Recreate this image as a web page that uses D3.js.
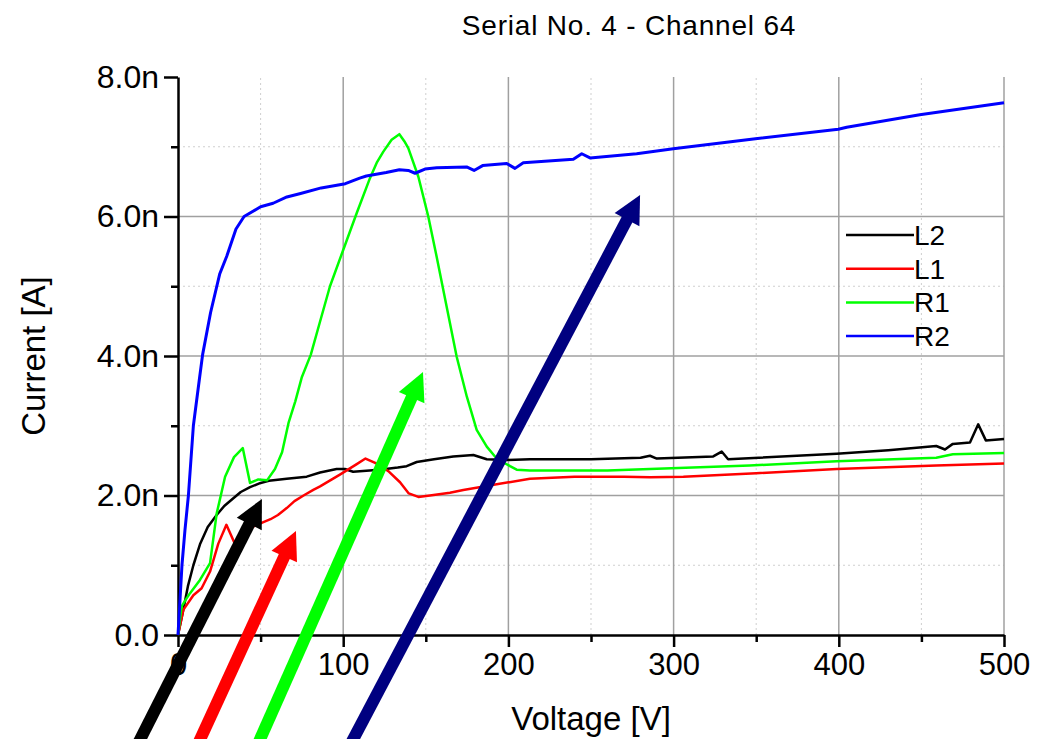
<!DOCTYPE html>
<html>
<head>
<meta charset="utf-8">
<script src="https://cdn.jsdelivr.net/npm/d3@7"></script>
<style>
body { margin: 0; background: #fff; }
text { font-family: "Liberation Sans", Arial, sans-serif; }
</style>
</head>
<body>
<div id="chart"></div>
<script>
// IV curves, voltage [V] / current [nA]
var seriesNames = ["L2", "L1", "R1", "R2"];
var seriesColors = ["#000000", "#ff0000", "#00ff00", "#0000ff"];

var L2 = [[0,0],[3.2,0.36],[6,0.7],[9.3,1.0],[13.3,1.3],[18,1.55],[23.4,1.72],[28,1.85],[33.5,1.96],[38,2.05],[43.6,2.12],[50,2.18],[55,2.21],[65.8,2.24],[77.9,2.27],[86,2.33],[96,2.38],[101,2.38],[106,2.34],[112,2.35],[122,2.37],[133,2.40],[138.4,2.42],[144.5,2.48],[155,2.52],[166.6,2.56],[178.8,2.58],[186.9,2.52],[199,2.51],[213,2.52],[250,2.52],[280,2.54],[285.7,2.57],[289.8,2.53],[324,2.56],[329.1,2.63],[333,2.52],[398.7,2.60],[430,2.65],[459,2.71],[464.3,2.66],[469,2.74],[479.4,2.76],[484.4,3.02],[489,2.79],[500,2.81]];

var L1 = [[0,0],[3.2,0.36],[9.3,0.57],[14.3,0.67],[19.4,0.91],[24.4,1.31],[29.3,1.58],[34.2,1.32],[38.5,1.46],[45,1.55],[51,1.61],[56,1.66],[60.5,1.72],[65.8,1.82],[70.5,1.92],[76,2.0],[81.9,2.08],[86,2.13],[98,2.30],[108.2,2.45],[113.5,2.53],[119,2.47],[123,2.42],[127.8,2.34],[134.4,2.19],[139.7,2.03],[145.5,1.98],[152.5,2.00],[164.6,2.04],[172.7,2.08],[192.9,2.16],[213,2.24],[240,2.27],[270,2.27],[285.7,2.26],[305.9,2.27],[350,2.32],[398.7,2.38],[459,2.43],[500,2.46]];

var R1 = [[0,0],[2.2,0.41],[4.5,0.5],[7.3,0.60],[13.3,0.79],[19.4,1.03],[23.4,1.74],[28.5,2.27],[33.9,2.55],[39.2,2.68],[43.6,2.18],[48.6,2.23],[54,2.22],[58.7,2.38],[63,2.62],[67,3.05],[71,3.35],[75,3.7],[80.4,4.02],[85.7,4.47],[92,5.0],[100,5.52],[108.2,6.05],[116.2,6.55],[120.5,6.78],[124.3,6.93],[129.3,7.10],[134,7.18],[137,7.08],[139.4,6.98],[145.5,6.57],[151.5,6.0],[156.6,5.42],[162.6,4.71],[168.7,3.99],[174.8,3.42],[180.8,2.94],[186.9,2.70],[192.9,2.53],[201,2.42],[205,2.37],[213,2.36],[260,2.36],[285.7,2.38],[346,2.43],[398.7,2.49],[459,2.54],[469,2.59],[500,2.61]];

var R2 = [[0,0],[2.4,1.0],[4.2,1.5],[6.3,2.0],[9.3,3.0],[12.9,3.66],[14.9,4.02],[19.7,4.62],[25.3,5.18],[29.5,5.43],[35.1,5.82],[40,6.0],[50,6.14],[57.6,6.19],[65.9,6.28],[74.2,6.33],[86.7,6.41],[101.3,6.47],[110,6.55],[114,6.58],[126,6.63],[134,6.67],[139.4,6.66],[143.5,6.62],[149.5,6.68],[156.6,6.70],[174.7,6.71],[179.2,6.66],[184.4,6.73],[199,6.76],[204,6.69],[209,6.77],[239.3,6.82],[244.4,6.90],[249.4,6.84],[277.6,6.90],[299.8,6.97],[348.3,7.11],[399.7,7.25],[404.8,7.28],[449,7.46],[500,7.63]];

var xMajor = [0, 100, 200, 300, 400, 500];
var xMinor = [50, 150, 250, 350, 450];
var yMajor = [0, 2, 4, 6, 8];
var yMinor = [1, 3, 5, 7];
var yTickLabels = ["0.0", "2.0n", "4.0n", "6.0n", "8.0n"];

// annotation arrows (tail -> tip), in data units
var arrowColors = ["#000000", "#ff0000", "#00ff00", "#000080"];
var arrowTails = [[-25.1,-1.6],[11.4,-1.6],[47.7,-1.6],[103.7,-1.6]];
var arrowTips = [[50.8,1.95],[71.4,1.49],[148.3,3.77],[279.7,6.31]];

var width = 1046, height = 739;
var margin = {top: 77, right: 42, bottom: 104, left: 178};

var svg = d3.select("#chart").append("svg")
    .attr("width", width)
    .attr("height", height);

var x = d3.scaleLinear().domain([0, 500]).range([margin.left, width - margin.right]);
var y = d3.scaleLinear().domain([0, 8]).range([height - margin.bottom, margin.top]);

// grid
var grid = svg.append("g");
grid.selectAll(".vminor").data(xMinor).enter().append("line")
    .attr("x1", x).attr("x2", x).attr("y1", y(0)).attr("y2", y(8))
    .attr("stroke", "#cfcfcf").attr("stroke-width", 1).attr("stroke-dasharray", "2,3");
grid.selectAll(".hminor").data(yMinor).enter().append("line")
    .attr("x1", x(0)).attr("x2", x(500)).attr("y1", y).attr("y2", y)
    .attr("stroke", "#cfcfcf").attr("stroke-width", 1).attr("stroke-dasharray", "2,3");
grid.selectAll(".vmajor").data(xMajor.slice(1)).enter().append("line")
    .attr("x1", x).attr("x2", x).attr("y1", y(0)).attr("y2", y(8))
    .attr("stroke", "#a0a0a0").attr("stroke-width", 1.5);
grid.selectAll(".hmajor").data([2, 4, 6]).enter().append("line")
    .attr("x1", x(0)).attr("x2", x(500)).attr("y1", y).attr("y2", y)
    .attr("stroke", "#a0a0a0").attr("stroke-width", 1.5);

// axes
svg.append("g")
    .attr("transform", "translate(0," + y(0) + ")")
    .call(d3.axisBottom(x).tickValues(xMajor).tickSize(12).tickSizeOuter(0).tickPadding(6))
    .selectAll(".tick text").style("font-size", "31px");
svg.append("g")
    .attr("transform", "translate(0," + y(0) + ")")
    .call(d3.axisBottom(x).tickValues(xMinor).tickSize(7).tickFormat(""))
    .select(".domain").remove();

svg.append("g")
    .attr("transform", "translate(" + x(0) + ",0)")
    .call(d3.axisLeft(y).tickValues(yMajor).tickSize(14).tickSizeOuter(0).tickPadding(5)
        .tickFormat(function(d, i) { return yTickLabels[i]; }))
    .selectAll(".tick text").style("font-size", "32px");
svg.append("g")
    .attr("transform", "translate(" + x(0) + ",0)")
    .call(d3.axisLeft(y).tickValues(yMinor).tickSize(7).tickFormat(""))
    .select(".domain").remove();

svg.selectAll(".domain").attr("stroke", "#000").attr("stroke-width", 2.5);
svg.selectAll(".tick line").attr("stroke", "#000").attr("stroke-width", 2.5);
svg.selectAll(".tick text").attr("fill", "#000")
    .style("font-family", "'Liberation Sans', Arial, sans-serif");

// curves
var line = d3.line().x(function(d) { return x(d[0]); }).y(function(d) { return y(d[1]); });
var allSeries = [L2, L1, R1, R2];
svg.append("g").selectAll("path").data(allSeries).enter().append("path")
    .attr("d", line)
    .attr("fill", "none")
    .attr("stroke", function(d, i) { return seriesColors[i]; })
    .attr("stroke-width", function(d, i) { return i == 3 ? 3 : 2.5; })
    .attr("stroke-linejoin", "round");

// legend
var legend = svg.append("g").attr("transform", "translate(846,235)");
seriesNames.forEach(function(name, i) {
    var row = legend.append("g").attr("transform", "translate(0," + (i * 33.7) + ")");
    row.append("line").attr("x1", 0).attr("x2", 68).attr("y1", 0).attr("y2", 0)
        .attr("stroke", seriesColors[i]).attr("stroke-width", 2.5);
    row.append("text").attr("x", 68).attr("y", 10)
        .style("font-size", "28px").text(name);
});

// titles
svg.append("text").attr("x", 629).attr("y", 35).attr("text-anchor", "middle")
    .style("font-size", "28px").style("letter-spacing", "0.8px")
    .text("Serial No. 4 - Channel 64");
svg.append("text").attr("x", 591).attr("y", 730).attr("text-anchor", "middle")
    .style("font-size", "33px").text("Voltage [V]");
svg.append("text").attr("transform", "translate(45," + y(4) + ") rotate(-90)")
    .attr("text-anchor", "middle").style("font-size", "33px").text("Current [A]");

// arrows
var arrows = svg.append("g");
arrowColors.forEach(function(c, i) {
    var t0 = [x(arrowTails[i][0]), y(arrowTails[i][1])];
    var t1 = [x(arrowTips[i][0]), y(arrowTips[i][1])];
    var dx = t1[0] - t0[0], dy = t1[1] - t0[1];
    var len = Math.sqrt(dx * dx + dy * dy);
    var ux = dx / len, uy = dy / len;
    var hl = 28, hw = 14;
    var bx = t1[0] - ux * hl, by = t1[1] - uy * hl;
    arrows.append("line")
        .attr("x1", t0[0]).attr("y1", t0[1])
        .attr("x2", bx + ux * 2).attr("y2", by + uy * 2)
        .attr("stroke", c).attr("stroke-width", 12);
    arrows.append("polygon")
        .attr("points", [
            [t1[0], t1[1]],
            [bx - uy * hw, by + ux * hw],
            [bx + uy * hw, by - ux * hw]
        ].map(function(p) { return p.join(","); }).join(" "))
        .attr("fill", c);
});
</script>
</body>
</html>
